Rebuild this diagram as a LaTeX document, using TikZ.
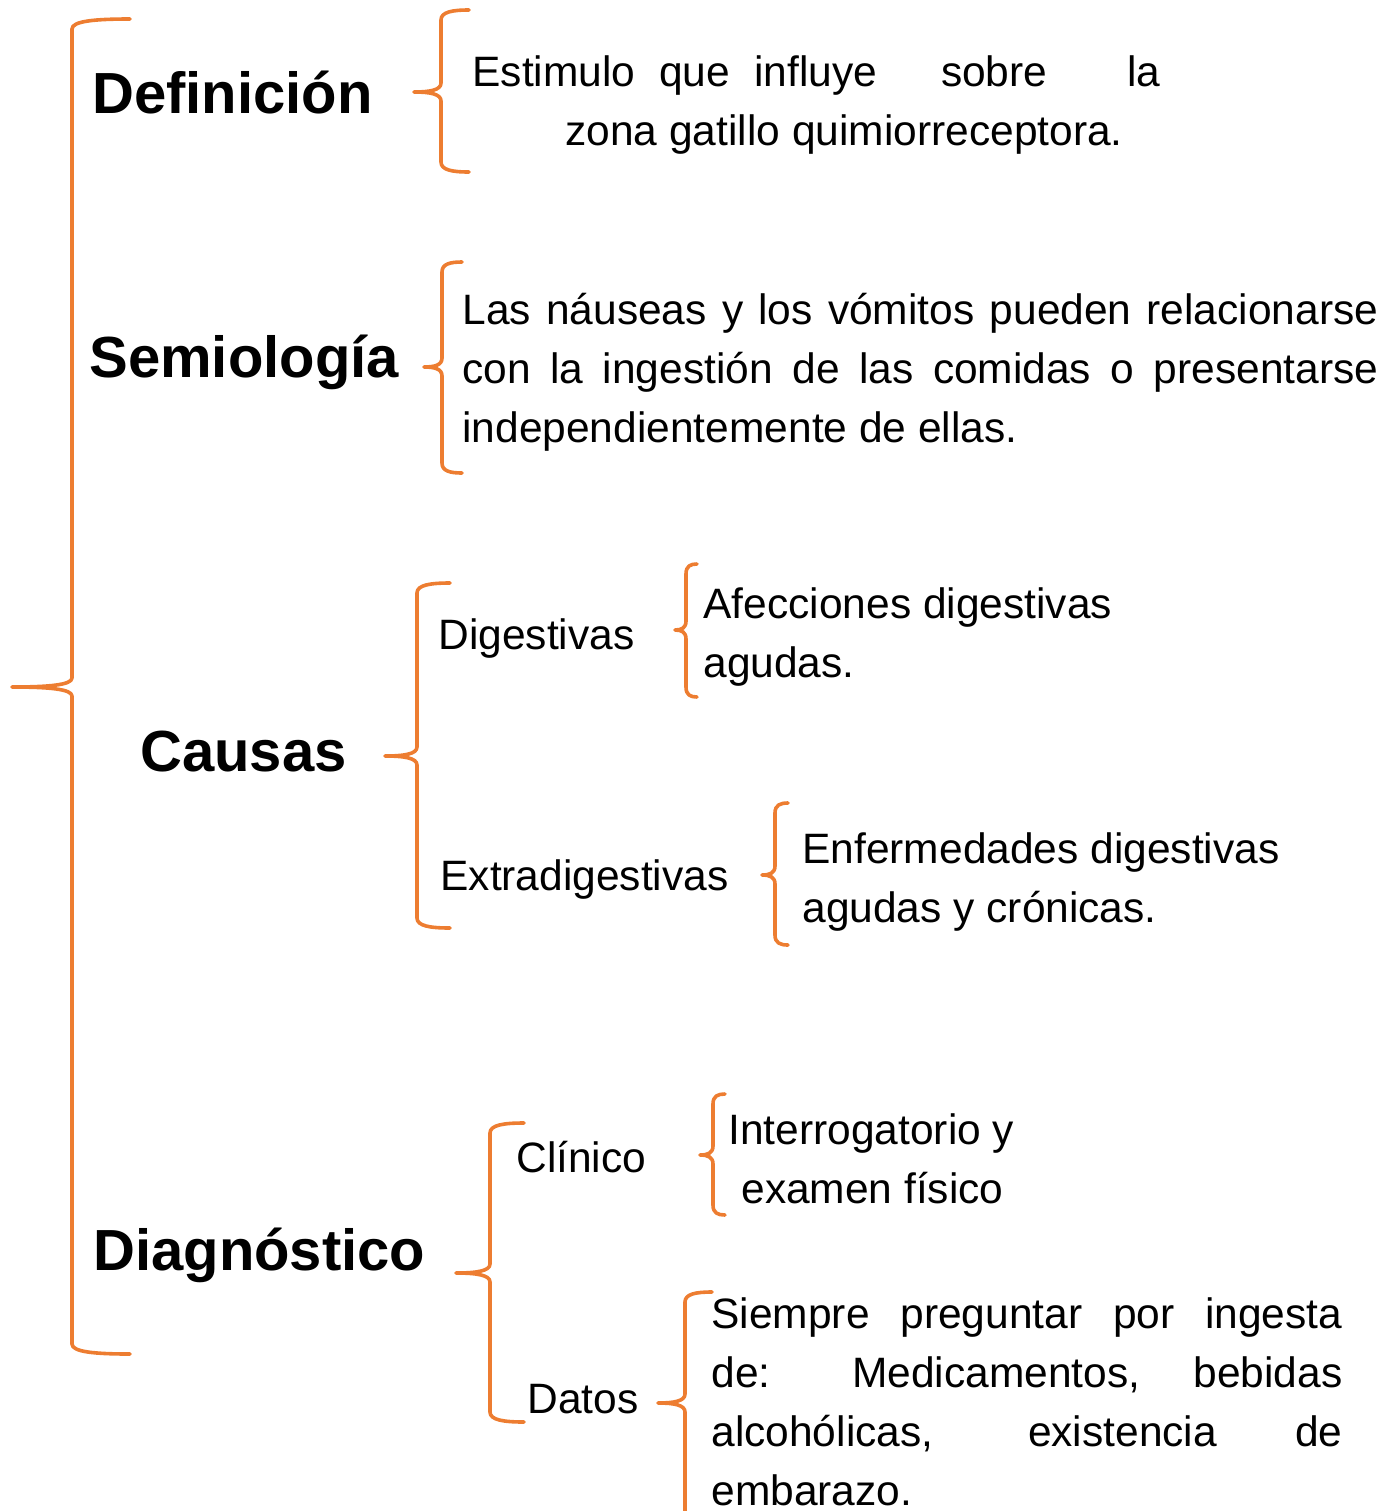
\documentclass[tikz,border=0pt]{standalone}
\usepackage{fontspec}
\setmainfont{Liberation Sans}
\usetikzlibrary{positioning}
\definecolor{braceorange}{RGB}{237,125,49}

\tikzset{
  brace/.style={draw=braceorange, line width=1.8pt, line cap=round, line join=round},
  head/.style={font=\fontsize{29}{35}\selectfont\bfseries, inner sep=0pt, anchor=base west},
  sub/.style={font=\fontsize{21.25}{29.5}\selectfont, inner sep=0pt, anchor=base west},
  txt/.style={font=\fontsize{21.25}{29.5}\selectfont, inner sep=0pt, anchor=base west, align=justify},
}
% brace: x of stem, y top, y middle, y bottom, x of ends, x of middle tip
\newcommand{\obrace}[6]{%
  \draw[brace] (#5,#2) .. controls ({#1+0.4*(#5-#1)},#2) and (#1,{#2+2}) .. (#1,{#2+10})
    -- (#1,{#3-9}) .. controls (#1,{#3-2}) and ({#1-0.4*(#1-#6)},#3) .. (#6,#3)
    .. controls ({#1-0.4*(#1-#6)},#3) and (#1,{#3+2}) .. (#1,{#3+9})
    -- (#1,{#4-10}) .. controls (#1,{#4-2}) and ({#1+0.4*(#5-#1)},#4) .. (#5,#4);}

\begin{document}
\begin{tikzpicture}[x=0.5pt, y=-0.5pt]
  \useasboundingbox (0,0) rectangle (1386,1511);

  \node[head] (defin) at (92,113) {Definición};
  \node[head] (semio) at (89,377) {Semiología};
  \node[head] (causas) at (140,771) {Causas};
  \node[head] (diagn) at (93,1270) {Diagnóstico};

  \node[sub] (digest) at (438,649) {Digestivas};
  \node[sub] (extra) at (440,890) {Extradigestivas};
  \node[sub] (clinico) at (516,1172) {Clínico};
  \node[sub] (datos) at (527,1413) {Datos};

  \node[txt, align=left] (estim) at (472,145)
    {Estimulo\hspace{12pt}que\hspace{12pt}influye\hspace{32pt}sobre\hspace{40pt}la\\
     \hspace*{46.5pt}zona gatillo quimiorreceptora.};
  \node[txt, text width=458pt] (nausea) at (462,324)
    {Las náuseas y los vómitos pueden relacionarse\linebreak
     con la ingestión de las comidas o presentarse\linebreak
     independientemente de ellas.};
  \node[txt, align=left] (afecc) at (703,677) {Afecciones digestivas\\agudas.};
  \node[txt, align=left] (enferm) at (802,922) {Enfermedades digestivas\\agudas y crónicas.};
  \node[txt, align=left] (interr) at (728,1203) {Interrogatorio y\\\hspace*{6.5pt}examen físico};
  \node[txt, text width=315.5pt] (siempre) at (711,1328)
    {Siempre preguntar por ingesta\linebreak
     de: Medicamentos, bebidas\linebreak
     alcohólicas, existencia de\linebreak
     embarazo.};

  % Braces
  \obrace{72}{19}{687}{1354}{130}{12}
  \obrace{441}{10}{92}{172}{469}{414}
  \obrace{442}{262}{367}{473}{462}{424}
  \obrace{417}{583}{756}{928}{450}{385}
  \obrace{686}{564}{630}{697}{697}{675}
  \obrace{775}{803}{875}{945}{788}{762}
  \obrace{490}{1123}{1273}{1422}{524}{456}
  \obrace{713}{1094}{1155}{1215}{725}{700}
  \obrace{685}{1292}{1403}{1560}{712}{658}
\end{tikzpicture}
\end{document}
